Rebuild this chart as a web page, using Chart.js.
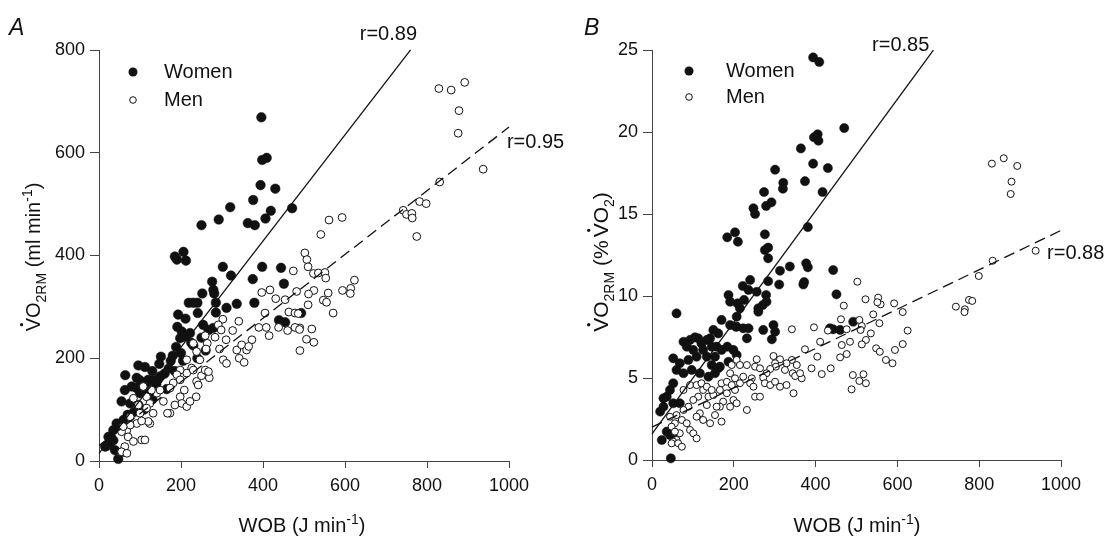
<!DOCTYPE html>
<html><head><meta charset="utf-8">
<script src="https://cdn.jsdelivr.net/npm/chart.js@4.4.1/dist/chart.umd.min.js"></script>
<style>
html,body{margin:0;padding:0;background:#fff;width:1105px;height:538px;overflow:hidden}
canvas{position:absolute;top:0}
#cA{left:0}#cB{left:552px}
</style></head><body>
<canvas id="cB" width="553" height="538"></canvas>
<canvas id="cA" width="600" height="538"></canvas>
<script>
const FONT = '"Liberation Sans", Arial, Helvetica, sans-serif';
const wobTicks = [0,200,400,600,800,1000];
const vo2mlTicks = [0,200,400,600,800];
const vo2pctTicks = [0,5,10,15,20,25];
const seriesNames = ['Women','Men'];

// Panel A: WOB (J/min) vs VO2RM (ml/min)
const womenA = [[396,669],[398,586],[409,590],[394,537],[430,530],[376,508],[320,494],[292,470],[250,459],[363,463],[380,459],[406,472],[419,487],[471,492],[185,398],[206,407],[190,392],[212,390],
[302,378],[322,361],[398,378],[444,376],[375,354],[276,349],[451,345],[252,326],[279,333],[281,326],[219,308],[230,308],[240,308],[285,308],[336,306],[379,308],[241,288],[311,298],[285,289],[193,285],[211,277],[439,274],[454,270],[493,288],[254,265],[267,255],[279,259],[191,261],[202,252],[210,242],[222,249],[198,239],[188,222],[151,203],[180,205],[96,186],[112,183],[147,189],[64,167],[92,162],[100,157],[120,158],[132,157],[63,138],[80,145],[92,142],[100,132],[108,138],[55,116],[76,112],[96,109],[43,73],[51,67],[35,60],[23,47],[27,35],[15,28],[39,21],[59,18],[47,4],
[120,130],[140,150],[160,170],[170,180],[130,120],[150,165],[200,210],[225,230],[175,195],[110,100],[70,90],[85,95],[60,80],[30,45],[20,30],[35,40],[165,140],[230,225],[250,240],[240,200],[260,215],[130,175],[145,160],[185,175],[205,195],[115,150]];
const menA = [[829,725],[859,722],[892,737],[878,682],[876,638],[937,568],[831,543],[782,505],[798,501],[742,488],[750,480],[763,482],[764,473],[775,437],[561,469],[593,474],[541,441],[502,405],
[507,392],[510,378],[523,365],[535,366],[551,367],[553,356],[524,332],[511,325],[559,327],[594,332],[614,336],[623,352],[613,326],[547,313],[555,309],[510,304],[571,288],[490,259],[519,257],[506,237],[524,231],[490,215],
[474,370],[397,328],[417,333],[431,316],[454,314],[482,330],[405,288],[463,290],[478,288],[486,287],[302,276],[341,272],[326,254],[373,236],[415,244],[390,260],[408,260],[438,260],[460,254],[478,260],[489,256],[291,265],[298,255],
[259,244],[283,241],[310,236],[264,229],[261,218],[294,218],[303,197],[311,190],[336,216],[348,226],[360,216],[342,200],[354,192],[365,223],
[230,229],[238,213],[246,197],[214,197],[226,181],[214,171],[198,177],[190,168],[238,155],[242,148],[208,138],[198,158],[181,152],[173,142],[198,125],[202,112],[185,109],[173,93],[167,93],[157,116],[141,132],[149,138],[128,138],[116,125],[124,112],[132,93],[116,103],[100,93],[96,109],[84,122],[108,145],[92,73],[76,86],[68,60],[55,57],[71,47],[84,38],[63,28],[55,18],[68,15],[104,41],[112,41],[124,73],[120,77],[104,78],[76,70],[59,67],[237,125],[214,106],[222,116],[250,166],[259,177],[269,162],[267,174],[230,177]];

// Panel B: WOB (J/min) vs VO2RM (% VO2)
const womenB = [[394,24.55],[409,24.27],[470,20.24],[405,19.86],[396,19.68],[407,19.47],[364,19.0],[394,18.07],[430,17.8],[301,17.7],[374,17.0],[321,16.9],[320,16.54],[417,16.34],[274,16.34],[279,15.49],[292,15.71],[248,15.35],[252,15.0],[381,14.2],[184,13.58],[203,13.88],[210,13.31],[276,13.76],[276,12.8],[284,12.95],[284,12.3],
[337,11.8],[313,11.54],[311,10.7],[284,10.9],[377,11.99],[381,11.75],[372,10.85],[370,10.7],[443,11.58],[451,10.1],
[240,10.98],[222,10.61],[236,10.37],[256,10.26],[279,10.06],[280,9.65],[271,9.45],[260,9.25],[260,9.04],[187,10.06],[191,9.65],[209,9.55],[225,9.76],[215,9.25],[207,8.74],[207,8.13],[191,8.23],[170,8.54],[162,7.72],[150,7.93],[142,7.42],[134,7.32],[121,7.11],[113,7.42],[105,7.48],[93,7.32],[77,7.21],[85,6.91],[101,6.71],[125,6.71],[146,6.91],[158,6.91],[170,6.71],[184,6.91],[199,6.71],[205,8.13],[223,8.03],[236,8.03],[232,7.42],[272,7.93],[297,8.23],[301,7.82],[293,7.36],[187,5.99],[207,6.4],[166,5.69],[146,5.79],[154,6.3],[134,6.3],[109,6.3],[89,6.1],[68,5.9],[52,6.2],[60,5.49],[77,5.29],[97,5.49],[117,5.29],[138,5.08],[154,5.29],[162,5.59],[60,8.94],[52,4.68],[44,4.27],[36,3.86],[28,3.76],[20,2.95],[52,3.46],[68,3.46],[28,3.25],[36,1.73],[24,1.22],[44,1.52],[52,1.63],[46,0.1],[492,8.43],[443,7.97],[460,7.93],[435,8.03]];
const menB = [[831,18.07],[860,18.4],[893,17.93],[879,16.97],[877,16.22],[938,12.76],[833,12.15],[799,11.22],[743,9.35],[765,9.19],[764,9.02],[775,9.76],[783,9.7],[502,10.87],[522,9.8],[553,9.9],[559,9.49],[551,9.62],[592,9.55],[613,9.02],[541,8.88],[507,8.54],[513,8.17],[510,7.93],[556,8.34],[535,7.72],[523,7.32],[513,7.05],[625,7.89],[613,7.07],[594,6.71],[548,6.81],[557,6.6],[572,6.1],[588,5.9],[491,5.18],[517,5.23],[507,4.82],[523,4.68],[488,4.31],
[469,9.41],[462,8.58],[476,7.97],[430,7.89],[396,8.09],[342,7.97],[411,7.21],[464,7.01],[484,7.21],[374,6.75],[404,6.3],[460,6.26],[476,6.46],[390,5.59],[437,5.59],[415,5.24],
[342,6.1],[329,5.9],[354,5.79],[325,5.49],[344,5.29],[366,4.98],[350,5.12],[362,5.29],[346,4.07],[313,6.14],[297,6.34],[301,5.9],[303,5.69],[289,5.55],[280,5.29],[272,5.02],[256,6.14],[252,5.69],[264,5.59],[276,4.68],[289,4.57],[301,4.77],[313,4.47],[329,4.57],[244,4.98],[240,4.68],[248,4.47],[252,3.86],[264,3.86],[223,5.08],[207,6.1],[215,5.79],[232,5.79],[195,5.79],[191,5.29],[203,4.98],[215,4.68],[203,4.27],[183,4.07],[174,3.56],[199,3.66],[207,3.46],[191,3.25],[232,3.05],[166,3.25],[154,2.74],[142,2.24],[170,2.34],[158,3.25],[134,3.35],[138,3.86],[150,3.96],[125,4.27],[113,3.86],[101,3.66],[89,3.25],[77,3.05],[60,2.74],[73,2.44],[85,2.24],[93,1.83],[101,1.63],[109,1.32],[68,1.63],[60,1.22],[52,1.12],[48,1.02],[64,1.02],[73,0.81],[56,2.24],[48,2.03],[44,2.64],[56,1.73],[77,4.27],[93,4.57],[109,4.57],[121,4.68],[134,4.47],[146,4.27],[170,4.68],[183,4.77],[195,4.57],[166,4.27],[117,2.85],[109,2.64],[125,2.44]];

// regression lines: [intercept, slope, xStart, xEnd]
const fitWomenA = [15, 1.033, 0, 760];
const fitMenA = [30, 0.62, 0, 1000];
const fitWomenB = [1.6, 0.034, 0, 688];
const fitMenB = [2.0, 0.012, 0, 1000];
const rLabelsA = ['r=0.89','r=0.95'];
const rLabelsB = ['r=0.85','r=0.88'];

const AX = '#444';
const INK = '#111';

function toXY(arr){ return arr.map(p=>({x:p[0],y:p[1]})); }
function fitLine(f){ return [{x:f[2],y:f[0]+f[1]*f[2]},{x:f[3],y:f[0]+f[1]*f[3]}]; }

function drawRich(ctx, parts, x, y, size){
  let cx = x;
  for(const p of parts){
    const fs = p.s ? Math.round(size*0.68) : size;
    ctx.font = fs+'px '+FONT;
    const dy = p.s==='sub' ? size*0.3 : (p.s==='sup' ? -size*0.42 : 0);
    ctx.fillText(p.t, cx, y+dy);
    const w = ctx.measureText(p.t).width;
    if(p.dot){ ctx.beginPath(); ctx.arc(cx+w*0.5, y-size*0.72-size*0.2, size*0.08, 0, Math.PI*2); ctx.fill(); }
    cx += w + (p.gap||0);
  }
  return cx - x;
}
function richWidth(ctx, parts, size){
  let w=0;
  for(const p of parts){ ctx.font=(p.s?Math.round(size*0.68):size)+'px '+FONT; w+=ctx.measureText(p.t).width+(p.gap||0); }
  return w;
}

function decoPlugin(cfg){
  return {
    id:'deco',
    afterDraw(chart){
      const ctx = chart.ctx, xs = chart.scales.x, ys = chart.scales.y;
      ctx.save();
      ctx.fillStyle = INK; ctx.strokeStyle = INK; ctx.textBaseline = 'alphabetic';
      ctx.font = 'italic 23px '+FONT;
      ctx.fillText(cfg.letter, cfg.letterPos[0], cfg.letterPos[1]);
      const L = cfg.legend;
      ctx.beginPath(); ctx.arc(L.x, L.y1, 4.5, 0, Math.PI*2); ctx.fill();
      ctx.beginPath(); ctx.arc(L.x, L.y2, 3.3, 0, Math.PI*2); ctx.fillStyle='#fff'; ctx.fill(); ctx.lineWidth=1; ctx.stroke();
      ctx.fillStyle = INK; ctx.font = '20px '+FONT; ctx.textBaseline='middle';
      ctx.fillText(seriesNames[0], L.tx, L.y1);
      ctx.fillText(seriesNames[1], L.tx, L.y2);
      ctx.font = '20px '+FONT;
      cfg.rLabels.forEach((t,i)=>{
        const pos = cfg.rPos[i];
        ctx.fillText(t, xs.getPixelForValue(pos[0]), ys.getPixelForValue(pos[1]));
      });
      ctx.textBaseline = 'alphabetic';
      const xt = [{t:'WOB (J min'},{t:'-1',s:'sup'},{t:')'}];
      const xw = richWidth(ctx, xt, 20);
      drawRich(ctx, xt, cfg.xTitle[0]-xw/2, cfg.xTitle[1], 20);
      const ys2 = cfg.yTitleSize;
      const yw = richWidth(ctx, cfg.yTitleParts, ys2);
      ctx.translate(cfg.yTitle[0], cfg.yTitle[1]);
      ctx.rotate(-Math.PI/2);
      drawRich(ctx, cfg.yTitleParts, -yw/2, 7, ys2);
      ctx.restore();
    }
  };
}

function makeChart(id, women, men, fitW, fitM, yTicks, yMax, yWidth, padRight, xHeight, rW, rM, cfg){
  const tickFont = {family:FONT,size:18};
  return new Chart(document.getElementById(id), {
    type:'scatter',
    data:{datasets:[
      {label:'fitW', type:'line', data:fitLine(fitW), borderColor:INK, borderWidth:1.3, pointRadius:0, fill:false, order:-2, clip:false},
      {label:'fitM', type:'line', data:fitLine(fitM), borderColor:INK, borderWidth:1.3, borderDash:[11,6], pointRadius:0, fill:false, order:-1, clip:false},
      {label:seriesNames[1], data:toXY(men), pointRadius:rM, pointBorderWidth:1, pointBorderColor:INK, pointBackgroundColor:'#fff', order:0, clip:false},
      {label:seriesNames[0], data:toXY(women), pointRadius:rW, pointBorderWidth:0.5, pointBorderColor:INK, pointBackgroundColor:INK, order:1, clip:false}
    ]},
    options:{
      responsive:false, animation:false, events:[],
      layout:{padding:{left:0,top:50,right:padRight,bottom:0}},
      plugins:{legend:{display:false},tooltip:{enabled:false}},
      scales:{
        x:{type:'linear',min:0,max:1000,
          afterBuildTicks:s=>{s.ticks=wobTicks.map(v=>({value:v}));},
          afterFit:s=>{s.height=xHeight;},
          grid:{drawOnChartArea:false,drawTicks:true,tickLength:7,color:AX,lineWidth:1},
          border:{display:true,color:AX,width:1},
          ticks:{padding:7,color:INK,font:tickFont,maxRotation:0,autoSkip:false,callback:v=>String(v)}},
        y:{type:'linear',min:0,max:yMax,
          afterBuildTicks:s=>{s.ticks=yTicks.map(v=>({value:v}));},
          afterFit:s=>{s.width=yWidth;},
          grid:{drawOnChartArea:false,drawTicks:true,tickLength:9,color:AX,lineWidth:1},
          border:{display:true,color:AX,width:1},
          ticks:{padding:5,color:INK,font:tickFont,autoSkip:false,callback:v=>String(v)}}
      }
    },
    plugins:[decoPlugin(cfg)]
  });
}

makeChart('cA', womenA, menA, fitWomenA, fitMenA, vo2mlTicks, 800, 99, 91, 77, 4.8, 3.9, {
  letter:'A', letterPos:[9,35],
  legend:{x:133,y1:72,y2:100,tx:164},
  rLabels:rLabelsA, rPos:[[636,831],[995,620]],
  xTitle:[302,532], yTitle:[33,257], yTitleSize:20,
  yTitleParts:[{t:'V',dot:true},{t:'O'},{t:'2RM',s:'sub'},{t:' (ml min'},{t:'-1',s:'sup'},{t:')'}]
});
makeChart('cB', womenB, menB, fitWomenB, fitMenB, vo2pctTicks, 25, 100, 44, 78, 4.6, 3.5, {
  letter:'B', letterPos:[32,35],
  legend:{x:137,y1:71,y2:97,tx:174},
  rLabels:rLabelsB, rPos:[[538,25.3],[966,12.62]],
  xTitle:[305,532], yTitle:[49,262], yTitleSize:21,
  yTitleParts:[{t:'V',dot:true},{t:'O'},{t:'2RM',s:'sub'},{t:' (%',gap:3},{t:'V',dot:true},{t:'O'},{t:'2',s:'sub'},{t:')'}]
});
</script>
</body></html>
